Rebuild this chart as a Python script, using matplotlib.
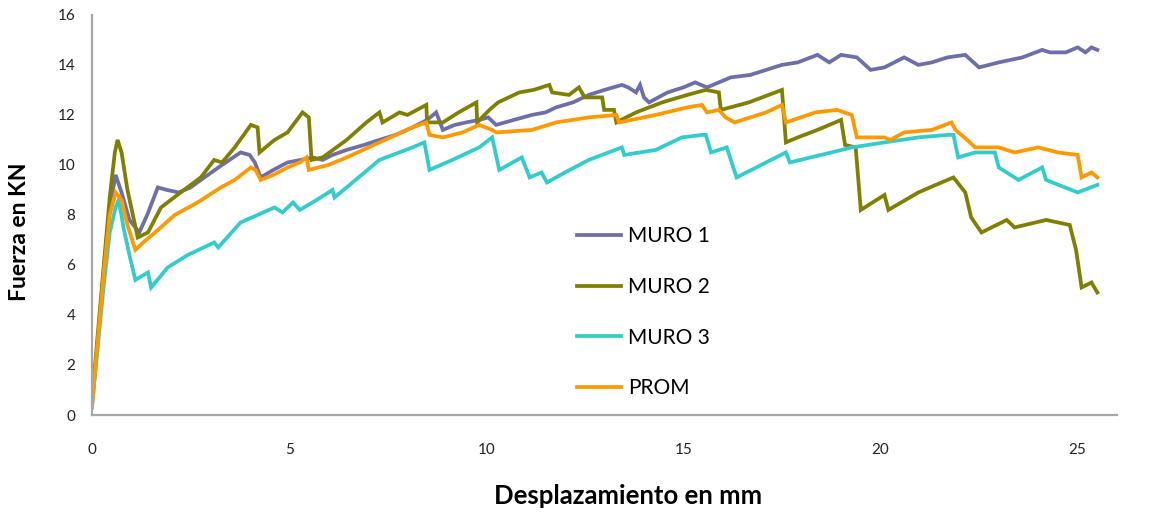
import matplotlib
matplotlib.use("Agg")
import matplotlib.pyplot as plt

plt.rcParams['font.family'] = ['Lato', 'DejaVu Sans']

# curvas fuerza-desplazamiento de los tres muros y el promedio
x_muro1 = [0.0, 0.15, 0.3, 0.45, 0.6, 0.75, 0.95, 1.2, 1.4, 1.67, 1.9, 2.2, 2.5, 2.94, 3.3,
           3.77, 4.0, 4.13, 4.28, 4.6, 4.96, 5.3, 5.6, 5.85, 6.1, 6.46, 6.9, 7.29, 7.7, 8.13,
           8.5, 8.73, 8.9, 9.2, 9.49, 9.82, 10.05, 10.25, 10.7, 11.16, 11.5, 11.77, 12.2, 12.6,
           13.0, 13.44, 13.6, 13.8, 13.9, 14.0, 14.13, 14.6, 15.0, 15.3, 15.6, 16.2, 16.7, 17.1,
           17.5, 17.9, 18.4, 18.7, 19.0, 19.4, 19.75, 20.1, 20.6, 20.96, 21.3, 21.7, 22.15, 22.5,
           23.0, 23.6, 24.1, 24.3, 24.7, 25.0, 25.2, 25.35, 25.5]
y_muro1 = [0.4, 3.0, 5.8, 8.3, 9.6, 8.9, 7.8, 7.3, 8.0, 9.1, 9.0, 8.9, 9.1, 9.6, 10.0,
           10.5, 10.4, 10.1, 9.5, 9.8, 10.1, 10.2, 10.3, 10.2, 10.4, 10.6, 10.8, 11.0, 11.2, 11.5,
           11.8, 12.1, 11.4, 11.6, 11.7, 11.8, 11.9, 11.6, 11.8, 12.0, 12.1, 12.3, 12.5, 12.8,
           13.0, 13.2, 13.1, 12.9, 13.2, 12.7, 12.5, 12.9, 13.1, 13.3, 13.1, 13.5, 13.6, 13.8,
           14.0, 14.1, 14.4, 14.1, 14.4, 14.3, 13.8, 13.9, 14.3, 14.0, 14.1, 14.3, 14.4, 13.9,
           14.1, 14.3, 14.6, 14.5, 14.5, 14.7, 14.5, 14.7, 14.6]

x_muro2 = [0.0, 0.15, 0.3, 0.45, 0.58, 0.65, 0.75, 0.9, 1.16, 1.42, 1.75, 2.25, 2.76, 3.1, 3.3,
           3.62, 4.03, 4.2, 4.25, 4.63, 4.96, 5.34, 5.5, 5.57, 5.85, 6.46, 6.96, 7.29, 7.37, 7.8,
           8.0, 8.48, 8.5, 8.9, 9.3, 9.75, 9.77, 10.08, 10.3, 10.84, 11.2, 11.6, 11.67, 12.1,
           12.35, 12.5, 12.94, 12.99, 13.24, 13.3, 13.8, 14.46, 15.1, 15.57, 15.9, 15.95, 16.66,
           17.5, 17.6, 17.9, 18.4, 19.0, 19.1, 19.37, 19.5, 20.1, 20.2, 20.96, 21.4, 21.85, 22.15,
           22.3, 22.56, 23.2, 23.4, 24.2, 24.8, 24.96, 25.1, 25.35, 25.5]
y_muro2 = [0.5, 3.3, 6.0, 8.7, 10.5, 11.0, 10.5, 9.0, 7.1, 7.3, 8.3, 8.9, 9.5, 10.2, 10.1,
           10.7, 11.6, 11.5, 10.5, 11.0, 11.3, 12.1, 11.9, 10.2, 10.3, 11.0, 11.7, 12.1, 11.7, 12.1,
           12.0, 12.4, 11.7, 11.7, 12.1, 12.5, 11.7, 12.2, 12.5, 12.9, 13.0, 13.2, 12.9, 12.8,
           13.1, 12.7, 12.7, 12.2, 12.2, 11.7, 12.1, 12.5, 12.8, 13.0, 12.9, 12.2, 12.5,
           13.0, 10.9, 11.1, 11.4, 11.8, 10.8, 10.7, 8.2, 8.8, 8.2, 8.9, 9.2, 9.5, 8.9,
           7.9, 7.3, 7.8, 7.5, 7.8, 7.6, 6.6, 5.1, 5.3, 4.9]

x_muro3 = [0.0, 0.15, 0.3, 0.45, 0.6, 0.68, 0.8, 0.95, 1.1, 1.42, 1.5, 1.92, 2.43, 3.1, 3.2,
           3.77, 4.2, 4.63, 4.83, 5.1, 5.27, 5.7, 6.1, 6.15, 6.46, 7.29, 8.13, 8.43, 8.56, 9.14,
           9.82, 10.15, 10.33, 10.9, 11.1, 11.4, 11.54, 12.0, 12.6, 13.44, 13.5, 14.3, 14.96,
           15.47, 15.57, 15.7, 16.1, 16.35, 17.1, 17.6, 17.7, 18.76, 19.27, 20.1, 20.96, 21.7,
           21.85, 21.97, 22.4, 22.9, 23.0, 23.5, 24.1, 24.2, 25.0, 25.5]
y_muro3 = [0.4, 2.8, 5.2, 7.3, 8.3, 8.6, 7.5, 6.4, 5.4, 5.7, 5.1, 5.9, 6.4, 6.9, 6.7,
           7.7, 8.0, 8.3, 8.1, 8.5, 8.2, 8.6, 9.0, 8.7, 9.1, 10.2, 10.7, 10.9, 9.8, 10.2,
           10.7, 11.1, 9.8, 10.3, 9.5, 9.7, 9.3, 9.7, 10.2, 10.7, 10.4, 10.6, 11.1,
           11.2, 11.2, 10.5, 10.7, 9.5, 10.1, 10.5, 10.1, 10.5, 10.7, 10.9, 11.1, 11.2,
           11.2, 10.3, 10.5, 10.5, 9.9, 9.4, 9.9, 9.4, 8.9, 9.2]

x_prom = [0.0, 0.15, 0.3, 0.45, 0.6, 0.75, 0.9, 1.1, 1.3, 1.6, 2.1, 2.68, 3.27, 3.62, 4.03,
          4.15, 4.28, 4.6, 4.96, 5.27, 5.44, 5.5, 6.0, 6.46, 7.29, 8.13, 8.48, 8.56, 8.9, 9.4,
          9.82, 10.15, 10.25, 11.16, 11.77, 12.6, 13.3, 13.37, 14.3, 15.1, 15.47, 15.6, 15.9,
          16.07, 16.3, 17.1, 17.5, 17.6, 18.35, 18.9, 19.27, 19.4, 20.1, 20.25, 20.6, 21.3,
          21.8, 21.9, 22.2, 22.4, 23.0, 23.4, 24.0, 24.5, 25.0, 25.1, 25.35, 25.5]
y_prom = [0.3, 3.0, 5.7, 8.0, 8.9, 8.6, 7.6, 6.6, 6.9, 7.3, 8.0, 8.5, 9.1, 9.4, 9.9,
          9.8, 9.4, 9.6, 9.9, 10.1, 10.3, 9.8, 10.0, 10.3, 10.9, 11.5, 11.7, 11.2, 11.1, 11.3,
          11.6, 11.4, 11.3, 11.4, 11.7, 11.9, 12.0, 11.7, 12.0, 12.3, 12.4, 12.1, 12.2,
          11.9, 11.7, 12.1, 12.4, 11.7, 12.1, 12.2, 12.0, 11.1, 11.1, 11.0, 11.3, 11.4,
          11.7, 11.4, 11.0, 10.7, 10.7, 10.5, 10.7, 10.5, 10.4, 9.5, 9.7, 9.5]

series = ['MURO 1', 'MURO 2', 'MURO 3', 'PROM']
colores = ['#6E6EAA', '#808000', '#33CCCC', '#FF9900']

fig = plt.figure(figsize=(11.54, 5.13), dpi=100)
ax = fig.add_axes([0.0797, 0.191, 0.8883, 0.780])

datos = [(x_muro1, y_muro1), (x_muro2, y_muro2), (x_muro3, y_muro3), (x_prom, y_prom)]
for (xs, ys), nombre, c in zip(datos, series, colores):
    ax.plot(xs, ys, color=c, lw=2.7, label=nombre, solid_joinstyle='miter')

ax.set_xlim(0, 26)
ax.set_ylim(0, 16)
ax.set_xticks([0, 5, 10, 15, 20, 25])
ax.set_yticks(range(0, 17, 2))
ax.tick_params(length=0, labelsize=11, colors='#222222')
ax.tick_params(axis='x', pad=20)
ax.tick_params(axis='y', pad=12)

for lado in ['top', 'right']:
    ax.spines[lado].set_visible(False)
for lado in ['left', 'bottom']:
    ax.spines[lado].set_color('#A6A6A6')
    ax.spines[lado].set_linewidth(1.6)

ax.set_xlabel('Desplazamiento en mm', fontsize=18.5, fontweight='bold')
ax.set_ylabel('Fuerza en KN', fontsize=16.5, fontweight='bold')
ax.xaxis.set_label_coords(0.523, -0.172)
ax.yaxis.set_label_coords(-0.06, 0.457)

ax.legend(loc='upper left', bbox_to_anchor=(577 / 1154, 1 - 226 / 513),
          bbox_transform=fig.transFigure, frameon=False, fontsize=15,
          handlelength=2.1, handletextpad=0.35, labelspacing=1.48, borderpad=0,
          borderaxespad=0)

fig.savefig('out.png', dpi=100)
